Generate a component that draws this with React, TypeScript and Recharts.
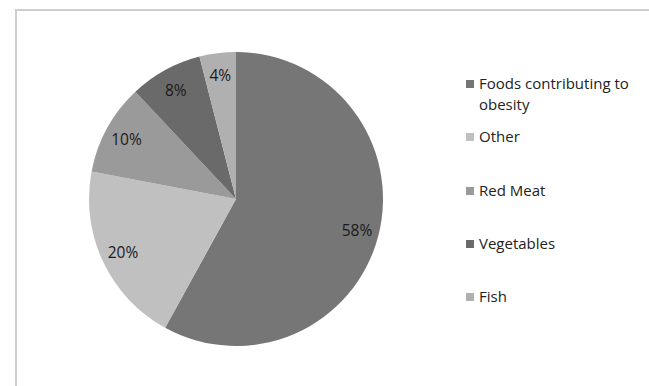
import { PieChart, Pie, Cell, Legend } from "recharts";

const categories = ["Foods contributing to obesity", "Other", "Red Meat", "Vegetables", "Fish"];
const shares = [58, 20, 10, 8, 4];
const sliceColors = ["#767676", "#c0c0c0", "#9a9a9a", "#6a6a6a", "#b0b0b0"];

const data = categories.map((name, i) => ({ name, value: shares[i] }));

const RAD = Math.PI / 180;

function sliceLabel(props: any) {
  const { cx, cy, midAngle, outerRadius, value } = props;
  const r = outerRadius * 0.85;
  const x = cx + r * Math.cos(-midAngle * RAD);
  const y = cy + r * Math.sin(-midAngle * RAD);
  return (
    <text x={x} y={y} fill="#1a1a1a" fontSize={15.5} textAnchor="middle" dominantBaseline="central">
      {`${value}%`}
    </text>
  );
}

function LegendBox() {
  return (
    <div style={{ fontFamily: "'Open Sans', sans-serif", fontSize: 15, color: "#222" }}>
      {categories.map((name, i) => (
        <div key={name} style={{ display: "flex", alignItems: "flex-start", height: 53.3, lineHeight: "21px" }}>
          <span
            style={{
              width: 8,
              height: 8,
              marginTop: 7,
              marginRight: 5,
              flex: "none",
              background: sliceColors[i],
            }}
          />
          <span style={{ width: 165 }}>{name}</span>
        </div>
      ))}
    </div>
  );
}

export default function App() {
  return (
    <div style={{ position: "absolute", left: 0, top: 0, width: 649, height: 386, background: "#fff", overflow: "hidden" }}>
      <div
        style={{
          position: "absolute",
          left: 15,
          top: 9,
          width: 700,
          height: 400,
          borderLeft: "2px solid #cfcfcf",
          borderTop: "2px solid #cfcfcf",
        }}
      />
      <PieChart
        width={649}
        height={386}
        margin={{ top: 0, right: 0, bottom: 0, left: 0 }}
        style={{ fontFamily: "'Open Sans', sans-serif" }}
      >
        <Pie
          data={data}
          dataKey="value"
          nameKey="name"
          cx={236}
          cy={199}
          outerRadius={147}
          startAngle={90}
          endAngle={-270}
          stroke="none"
          label={sliceLabel}
          labelLine={false}
          isAnimationActive={false}
        >
          {data.map((d, i) => (
            <Cell key={d.name} fill={sliceColors[i]} />
          ))}
        </Pie>
        <Legend
          layout="vertical"
          verticalAlign="top"
          align="right"
          wrapperStyle={{ left: 466, top: 73, width: 183 }}
          content={() => <LegendBox />}
        />
      </PieChart>
    </div>
  );
}
